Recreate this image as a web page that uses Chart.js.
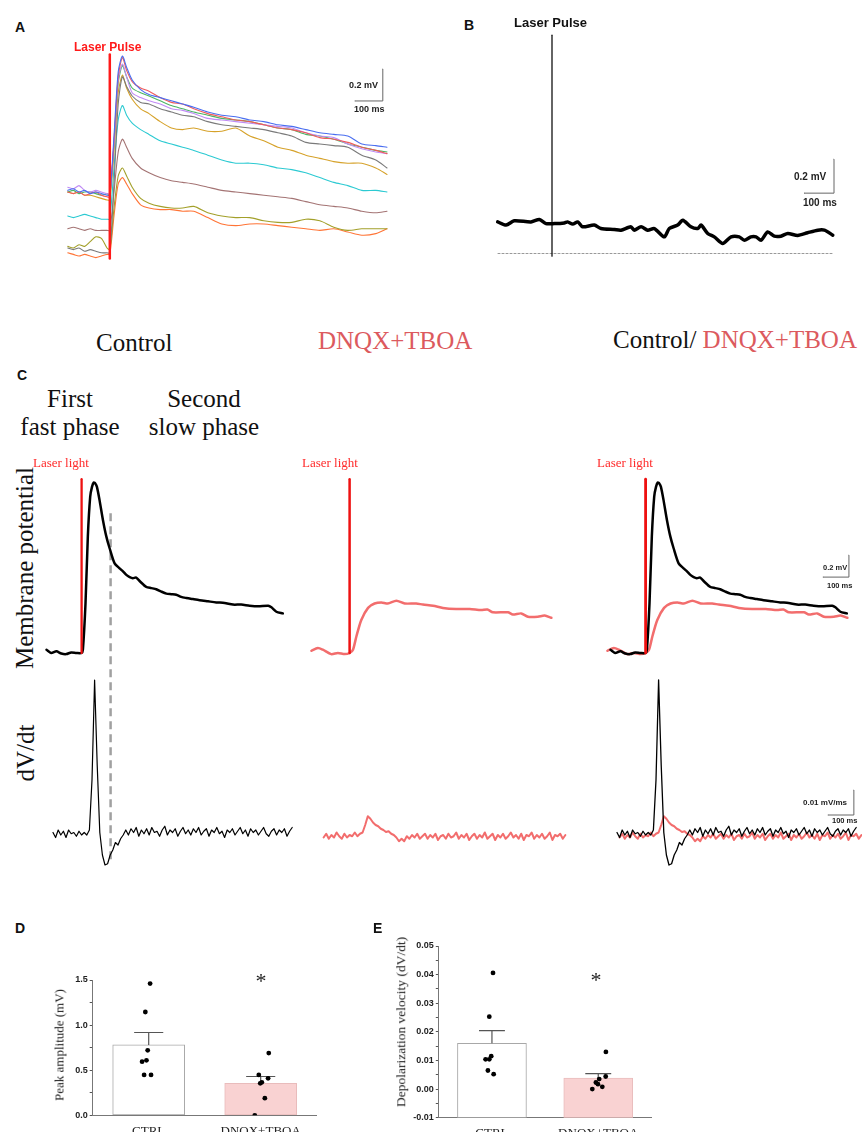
<!DOCTYPE html>
<html>
<head>
<meta charset="utf-8">
<title>Laser evoked responses</title>
<script src="https://cdn.jsdelivr.net/npm/chart.js@4.4.1/dist/chart.umd.min.js"></script>
<style>
  body { margin: 0; background: #fff; }
  #page { position: relative; width: 862px; height: 1132px; overflow: hidden; }
  #page canvas { position: absolute; }
  .t { position: absolute; white-space: nowrap; line-height: 1; }
  .sans { font-family: 'Liberation Sans', Arial, sans-serif; font-weight: bold; }
  .serif { font-family: 'Liberation Serif', 'Times New Roman', serif; }
  .lbl { font-size: 14px; color: #111; }
  .v { transform: translate(-50%, -50%) rotate(-90deg); }
  .mid { transform: translateX(-50%); text-align: center; }
  .pink { color: #dc5a5e; }
  .laser { font-size: 13px; color: #ff2a2a; }
</style>
</head>
<body>
<div id="page">
  <canvas id="chartA" width="336" height="216" style="left:65.2px;top:48px"></canvas>
  <canvas id="chartB" width="348" height="238" style="left:492px;top:24px"></canvas>
  <canvas id="chartC1" width="260" height="407" style="left:40.4px;top:466px"></canvas>
  <canvas id="chartC2" width="260" height="407" style="left:308.4px;top:466px"></canvas>
  <canvas id="chartC3" width="258" height="407" style="left:604.1px;top:466px"></canvas>
  <canvas id="chartD" width="330" height="200" style="left:0px;top:960px"></canvas>
  <canvas id="chartE" width="300" height="230" style="left:360px;top:930px"></canvas>

  <div class="t sans lbl" style="left:15px;top:20px">A</div>
  <div class="t sans" style="left:74px;top:41px;font-size:12px;color:#ff1a1a">Laser Pulse</div>
  <div class="t sans" style="left:349px;top:81px;font-size:9px;color:#222">0.2 mV</div>
  <div class="t sans" style="left:354px;top:105px;font-size:9px;color:#222">100 ms</div>

  <div class="t sans lbl" style="left:464px;top:18px">B</div>
  <div class="t sans" style="left:514px;top:16px;font-size:13px;color:#111">Laser Pulse</div>
  <div class="t sans" style="left:794px;top:172px;font-size:10px;color:#222">0.2 mV</div>
  <div class="t sans" style="left:803px;top:198px;font-size:10px;color:#222">100 ms</div>

  <div class="t serif" style="left:96px;top:330px;font-size:25px;color:#111">Control</div>
  <div class="t serif pink" style="left:318px;top:328px;font-size:25px">DNQX+TBOA</div>
  <div class="t serif" style="left:613px;top:327px;font-size:25px;color:#111">Control/ <span class="pink">DNQX+TBOA</span></div>
  <div class="t sans lbl" style="left:17px;top:368px">C</div>
  <div class="t serif mid" style="left:70px;top:385px;font-size:25px;line-height:28px;color:#111">First<br>fast phase</div>
  <div class="t serif mid" style="left:204px;top:385px;font-size:25px;line-height:28px;color:#111">Second<br>slow phase</div>
  <div class="t serif v" style="left:24px;top:568px;font-size:25px;color:#111">Membrane potential</div>
  <div class="t serif v" style="left:25px;top:753px;font-size:25px;color:#111">dV/dt</div>
  <div class="t serif laser" style="left:33px;top:456px">Laser light</div>
  <div class="t serif laser" style="left:302px;top:456px">Laser light</div>
  <div class="t serif laser" style="left:597px;top:456px">Laser light</div>
  <div class="t sans" style="left:823px;top:564px;font-size:7.5px;color:#222">0.2 mV</div>
  <div class="t sans" style="left:827px;top:582px;font-size:7.5px;color:#222">100 ms</div>
  <div class="t sans" style="left:803px;top:799px;font-size:8px;color:#222">0.01 mV/ms</div>
  <div class="t sans" style="left:832px;top:817px;font-size:7.5px;color:#222">100 ms</div>

  <div class="t sans lbl" style="left:15px;top:921px">D</div>
  <div class="t serif v" style="left:59px;top:1045px;font-size:13px;color:#222">Peak amplitude (mV)</div>
  <div class="t serif mid" style="left:261px;top:970px;font-size:22px;color:#222">*</div>
  <div class="t sans lbl" style="left:373px;top:921px">E</div>
  <div class="t serif v" style="left:401px;top:1022px;font-size:13.5px;color:#222">Depolarization velocity (dV/dt)</div>
  <div class="t serif mid" style="left:596px;top:969px;font-size:22px;color:#222">*</div>
</div>

<script>
// ---- A: responses to increasing laser intensity (time in ms from the pulse, mV)
var tA = [-150,-130,-110,-90,-70,-50,-30,-10,0,15,30,45,60,80,110,140,180,220,260,300,350,400,450,500,550,600,650,700,750,800,850,900,950,990];
var aBlue   = [0.41,0.42,0.40,0.41,0.39,0.40,0.39,0.38,0.38,0.75,1.15,1.25,1.18,1.10,1.04,1.01,0.99,0.97,0.95,0.93,0.90,0.88,0.87,0.85,0.84,0.82,0.81,0.79,0.77,0.76,0.75,0.70,0.69,0.68];
var aRed    = [0.40,0.39,0.40,0.38,0.39,0.40,0.38,0.37,0.37,0.72,1.12,1.24,1.16,1.09,1.05,1.03,0.99,0.96,0.95,0.92,0.89,0.87,0.85,0.84,0.82,0.80,0.79,0.77,0.74,0.73,0.71,0.68,0.66,0.64];
var aPurple = [0.43,0.42,0.44,0.41,0.40,0.41,0.40,0.39,0.39,0.70,1.10,1.20,1.12,1.02,0.99,0.97,0.95,0.92,0.91,0.89,0.86,0.85,0.84,0.83,0.82,0.81,0.80,0.77,0.75,0.74,0.70,0.67,0.65,0.64];
var aGreen  = [0.40,0.41,0.39,0.40,0.40,0.39,0.38,0.39,0.38,0.70,1.08,1.19,1.12,1.05,1.02,1.00,0.97,0.94,0.92,0.90,0.88,0.86,0.85,0.84,0.82,0.80,0.79,0.76,0.75,0.73,0.70,0.68,0.66,0.65];
var aGray   = [0.05,0.04,0.05,0.03,0.04,0.03,0.02,0.02,0.02,0.45,0.95,1.12,1.06,1.00,0.96,0.95,0.92,0.90,0.88,0.87,0.84,0.82,0.81,0.80,0.79,0.77,0.75,0.71,0.70,0.69,0.68,0.63,0.60,0.55];
var aGold   = [0.40,0.39,0.40,0.38,0.38,0.37,0.36,0.35,0.35,0.65,1.02,1.13,1.05,0.98,0.92,0.89,0.84,0.80,0.79,0.80,0.78,0.78,0.80,0.75,0.72,0.68,0.66,0.63,0.61,0.59,0.58,0.58,0.55,0.51];
var aCyan   = [0.25,0.24,0.25,0.26,0.25,0.24,0.23,0.23,0.23,0.55,0.85,0.94,0.88,0.83,0.79,0.76,0.72,0.70,0.68,0.66,0.63,0.60,0.58,0.58,0.57,0.55,0.54,0.52,0.49,0.46,0.44,0.41,0.41,0.40];
var aBrown  = [0.17,0.18,0.17,0.16,0.17,0.16,0.16,0.16,0.16,0.40,0.65,0.73,0.68,0.61,0.55,0.52,0.49,0.47,0.46,0.45,0.43,0.41,0.40,0.39,0.38,0.37,0.36,0.34,0.32,0.31,0.30,0.28,0.27,0.28];
var aOlive  = [0.06,0.05,0.07,0.06,0.09,0.12,0.11,0.05,0.04,0.30,0.50,0.55,0.50,0.43,0.36,0.33,0.31,0.30,0.30,0.31,0.27,0.25,0.24,0.24,0.22,0.21,0.21,0.23,0.22,0.18,0.16,0.17,0.17,0.17];
var aOrange = [0.02,0.01,0.00,0.01,0.00,-0.01,0.00,0.01,0.01,0.25,0.45,0.49,0.45,0.39,0.32,0.30,0.29,0.29,0.28,0.28,0.24,0.20,0.19,0.20,0.20,0.19,0.18,0.17,0.16,0.17,0.15,0.13,0.14,0.17];

// ---- B: no response (ms, mV)
var tB = [-181,-153,-126,-70,-42,-20,8,41,52,69,86,102,141,163,208,230,263,274,297,319,341,374,391,419,436,463,486,497,519,541,569,597,624,641,663,680,697,719,741,763,786,819,852,886,908,936];
var vB = [0.186,0.167,0.192,0.186,0.200,0.176,0.176,0.180,0.186,0.173,0.186,0.157,0.167,0.147,0.141,0.137,0.157,0.137,0.157,0.137,0.147,0.098,0.147,0.167,0.196,0.157,0.147,0.167,0.118,0.098,0.059,0.098,0.098,0.078,0.098,0.098,0.078,0.127,0.102,0.102,0.118,0.106,0.122,0.137,0.137,0.108];

// ---- C: membrane potential (ms, mV)
var tCtrl = [-135,-117,-97,-78,-59,-40,-20,0,5,15,24,33,40,47,53,59,69,82,95,108,127,146,160,172,185,197,210,225,249,268,287,305,326,345,364,383,403,428,454,486,518,550,582,614,646,680,718,730,749,774];
var vCtrl = [0.03,0.00,0.015,-0.005,-0.01,0.005,0.00,0.00,0.03,0.45,1.06,1.42,1.51,1.55,1.54,1.51,1.39,1.21,1.06,0.95,0.815,0.77,0.74,0.71,0.69,0.68,0.685,0.65,0.60,0.59,0.58,0.56,0.54,0.535,0.53,0.51,0.50,0.49,0.48,0.47,0.46,0.455,0.44,0.44,0.43,0.425,0.43,0.415,0.375,0.36];
var tDnqx = [-147,-122,-103,-71,-45,-19,0,13,26,45,71,96,122,147,180,212,256,282,321,359,410,462,506,530,551,609,628,660,686,724,750,776];
var vDnqx = [0.02,0.045,0.03,-0.01,0.00,-0.01,0.00,0.03,0.15,0.30,0.41,0.45,0.46,0.45,0.475,0.45,0.45,0.44,0.43,0.41,0.40,0.40,0.39,0.395,0.37,0.37,0.35,0.36,0.33,0.33,0.34,0.32];

// dV/dt, sampled every 10 ms (mV/ms)
var dvStep = 10;
var dvCtrlStart = -110;
var dvCtrl = [0.001,-0.001,0.002,0.000,0.0015,-0.001,0.002,0.0005,0.001,-0.0005,0.0015,0.000,
  0.001,0.000,0.002,0.022,0.062,0.028,0.001,-0.008,-0.012,-0.0115,-0.008,-0.006,-0.003,-0.004,-0.0015,0.000,
  0.002,0.000,0.0025,0.001,0.003,-0.0005,0.002,0.0005,0.0025,0.000,
  0.003,0.001,0.0015,-0.0005,0.002,0.0035,0.000,0.002,0.001,0.0025,
  -0.0005,0.0015,0.003,0.0005,0.002,0.000,0.0025,0.001,0.003,0.000,
  0.0015,0.0025,-0.0005,0.002,0.001,0.003,0.0005,0.0015,-0.001,0.002,
  0.001,0.0025,0.000,0.0015,0.003,0.0005,0.002,-0.0005,0.0025,0.001,
  0.002,0.000,0.0015,0.003,0.0005,-0.0005,0.0015,0.0025,0.000,0.002,
  0.001,0.0025,-0.0005,0.0015,0.003];
var dvDnqxStart = -100;
var dvDnqx = [-0.001,0.0005,-0.0015,0.000,-0.001,0.001,-0.0005,-0.0015,0.0005,-0.001,0.000,
  -0.0005,0.001,-0.0005,0.0005,0.001,0.004,
  0.0075,0.0065,0.005,0.004,0.0035,0.0025,0.002,0.0012,0.0015,0.0005,0.000,-0.001,-0.0025,-0.0015,-0.0025,-0.0005,
  -0.0015,0.000,-0.001,0.0005,-0.0015,-0.0005,0.0005,-0.0015,0.000,-0.001,
  0.0005,-0.002,-0.0005,0.000,-0.0015,0.0005,-0.001,-0.0005,0.001,-0.0015,
  0.000,-0.001,0.0005,-0.002,-0.0005,0.0005,-0.0015,0.000,-0.001,0.001,
  -0.0015,-0.0005,0.0005,-0.002,0.000,-0.001,0.0005,-0.0015,-0.0005,0.001,
  -0.001,0.000,-0.0015,0.0005,-0.002,0.000,-0.0005,0.001,-0.0015,0.000,
  -0.001,0.0005,-0.0015,-0.0005,0.001,-0.002,0.000,-0.0005,0.0005,-0.0015,
  0.000];

// ---- D and E: group summaries
var groups = ['CTRL', 'DNQX+TBOA'];
var ampMean = [0.78, 0.355];
var ampSem = [0.138, 0.075];
var ampCtrl = [1.46, 1.145, 0.72, 0.595, 0.61, 0.448, 0.448];
var ampCtrlX = [0.0125, -0.03, -0.009, -0.059, -0.02, -0.041, 0.021];
var ampDnqx = [0.69, 0.448, 0.41, 0.366, 0.355, 0.19, 0.0];
var ampDnqxX = [1.072, 0.983, 1.066, 1.01, 0.996, 1.037, 0.947];
var velMean = [0.016, 0.00385];
var velSem = [0.0044, 0.00155];
var velCtrl = [0.0406, 0.0253, 0.0115, 0.0104, 0.0104, 0.0065, 0.0052];
var velCtrlX = [0.01, -0.025, -0.007, -0.025, -0.06, -0.038, 0.016];
var velDnqx = [0.013, 0.0044, 0.0035, 0.0023, 0.0017, 0.0008, 0.0];
var velDnqxX = [1.072, 1.07, 1.009, 0.978, 0.997, 1.038, 0.944];
var velFloor = -0.01;

Chart.defaults.font.family = "'Liberation Sans', Arial, sans-serif";

function xy(ts, vs) {
  return ts.map(function (t, i) { return {x: t, y: vs[i]}; });
}
function sampled(t0, dt, vs) {
  return vs.map(function (v, i) { return {x: t0 + i * dt, y: v}; });
}
function line(data, color, width, more) {
  var ds = {data: data, borderColor: color, borderWidth: width, pointRadius: 0, tension: 0.25,
    borderJoinStyle: 'round', borderCapStyle: 'round', fill: false};
  for (var k in more) { ds[k] = more[k]; }
  return ds;
}
function traceChart(id, xr, yr, y2r, datasets) {
  var scales = {
    x: {type: 'linear', display: false, min: xr[0], max: xr[1]},
    y: {display: false, min: yr[0], max: yr[1]}
  };
  if (y2r) { scales.y2 = {display: false, min: y2r[0], max: y2r[1]}; }
  return new Chart(document.getElementById(id), {
    type: 'line',
    data: {datasets: datasets},
    options: {
      responsive: false, animation: false, events: [],
      layout: {padding: 0},
      plugins: {legend: {display: false}, tooltip: {enabled: false}},
      scales: scales
    }
  });
}

// A
var aColors = ['#4a6ef0', '#f05a5a', '#c08cf5', '#4cb564', '#7a7a7a', '#d6a22a', '#2ccad2', '#a47474', '#a3a02a', '#ff7436'];
var aSeries = [aBlue, aRed, aPurple, aGreen, aGray, aGold, aCyan, aBrown, aOlive, aOrange];
var aSets = [line([{x: 0, y: -0.015}, {x: 0, y: 1.26}], '#ff1a1a', 2.5, {tension: 0})];
aSeries.forEach(function (s, i) { aSets.push(line(xy(tA, s), aColors[i], 1.1)); });
aSets.push(line([{x: 875, y: 0.969}, {x: 975, y: 0.969}, {x: 975, y: 1.169}], '#666', 1, {tension: 0}));
traceChart('chartA', [-160, 1040], [-0.05, 1.30], null, aSets);

// B
traceChart('chartB', [-200, 960], [-0.05, 1.35], null, [
  line(xy(tB, vB), '#000', 3.5),
  line([{x: 0, y: -0.016}, {x: 0, y: 1.284}], '#111', 1.3, {tension: 0}),
  line([{x: -180, y: 0}, {x: 937, y: 0}], '#999', 1, {tension: 0, borderDash: [2, 2]}),
  line([{x: 840, y: 0.355}, {x: 940, y: 0.355}, {x: 940, y: 0.555}], '#666', 1, {tension: 0})
]);

// C
var mvRange = [-2.0, 1.7];
var dvRange = [-0.0152, 0.1476];
var laserC = [{x: 0, y: 0}, {x: 0, y: 1.58}];
var black = '#000', salmon = '#f26d6d', laserRed = '#ee1111';
traceChart('chartC1', [-160, 840], mvRange, dvRange, [
  line(laserC, laserRed, 2.3, {tension: 0}),
  line(xy(tCtrl, vCtrl), black, 2.5),
  line(sampled(dvCtrlStart, dvStep, dvCtrl), black, 1.2, {yAxisID: 'y2', tension: 0}),
  line([{x: 111.5, y: 1.27}, {x: 111.5, y: -1.88}], '#a0a0a0', 2.5, {tension: 0, borderDash: [8, 5], borderCapStyle: 'butt'})
]);
traceChart('chartC2', [-160, 840], mvRange, dvRange, [
  line(laserC, laserRed, 2.5, {tension: 0}),
  line(xy(tDnqx, vDnqx), salmon, 2.5),
  line(sampled(dvDnqxStart, dvStep, dvDnqx), salmon, 2, {yAxisID: 'y2', tension: 0})
]);
traceChart('chartC3', [-160, 832.3], mvRange, dvRange, [
  line(laserC, laserRed, 2.8, {tension: 0}),
  line(xy(tCtrl, vCtrl), black, 2.5),
  line(xy(tDnqx, vDnqx), salmon, 2.5),
  line(sampled(dvCtrlStart, dvStep, dvCtrl), black, 1.3, {yAxisID: 'y2', tension: 0}),
  line(sampled(dvDnqxStart, dvStep, dvDnqx), salmon, 2, {yAxisID: 'y2', tension: 0}),
  line([{x: 682, y: 0.69}, {x: 782, y: 0.69}, {x: 782, y: 0.89}], '#666', 1, {tension: 0}),
  line([{x: 701, y: 0.008}, {x: 801, y: 0.008}, {x: 801, y: 0.018}], '#666', 1, {tension: 0, yAxisID: 'y2'})
]);

// D and E
function errBar(x, mean, sem, half) {
  var top = mean + sem;
  return [{x: x, y: mean}, {x: x, y: top}, {x: x - half, y: top}, {x: x + half, y: top}];
}
function summaryChart(id, cfg) {
  var dots = xy(cfg.ctrlX, cfg.ctrl).concat(xy(cfg.dnqxX, cfg.dnqx));
  var bars = cfg.mean.map(function (m, i) { return {x: i, y: cfg.floor === 0 ? m : [cfg.floor, m]}; });
  return new Chart(document.getElementById(id), {
    type: 'bar',
    data: {datasets: [
      {type: 'scatter', data: dots, backgroundColor: '#000', borderWidth: 0, pointRadius: 2.4},
      {type: 'line', data: errBar(0, cfg.mean[0], cfg.sem[0], cfg.cap), borderColor: '#555', borderWidth: 1.2, pointRadius: 0, tension: 0},
      {type: 'line', data: errBar(1, cfg.mean[1], cfg.sem[1], cfg.cap), borderColor: '#555', borderWidth: 1.2, pointRadius: 0, tension: 0},
      {type: 'bar', data: bars, backgroundColor: ['#ffffff', '#f9d2d2'], borderColor: ['#a8a8a8', '#e9bcbc'],
        borderWidth: 1, borderSkipped: false, barThickness: cfg.barW}
    ]},
    options: {
      responsive: false, animation: false, events: [],
      layout: {padding: cfg.pad},
      plugins: {legend: {display: false}, tooltip: {enabled: false}},
      scales: {
        x: {type: 'linear', min: -0.5, max: 1.5, offset: false, z: 1,
          grid: {display: false, drawTicks: false, offset: false},
          border: {color: '#777', width: 1},
          afterBuildTicks: function (s) { s.ticks = [{value: 0}, {value: 1}]; },
          afterFit: function (s) { s.height = cfg.xH; },
          ticks: {autoSkip: false, maxRotation: 0, padding: 8, color: '#222',
            font: {family: "'Liberation Serif', serif", size: 13},
            callback: function (v, i) { return groups[i]; }}
        },
        y: {min: cfg.yr[0], max: cfg.yr[1], z: 1,
          grid: {drawOnChartArea: false, tickLength: 3, color: '#555'},
          border: {color: '#777', width: 1},
          afterFit: function (s) { s.width = 40; },
          ticks: {stepSize: cfg.step, autoSkip: false, padding: 2, color: '#222',
            font: {family: "'Liberation Sans', Arial, sans-serif", size: 9, weight: 'bold'},
            callback: cfg.fmt}
        }
      }
    }
  });
}
summaryChart('chartD', {
  ctrl: ampCtrl, ctrlX: ampCtrlX, dnqx: ampDnqx, dnqxX: ampDnqxX, mean: ampMean, sem: ampSem, floor: 0,
  cap: 0.13, barW: 72, yr: [0, 1.5], step: 0.25, xH: 44.7,
  pad: {left: 52.7, right: 13.3, top: 20, bottom: 0},
  fmt: function (v) { return Math.round(v * 100) % 50 === 0 ? v.toFixed(1) : ''; }
});
summaryChart('chartE', {
  ctrl: velCtrl, ctrlX: velCtrlX, dnqx: velDnqx, dnqxX: velDnqxX, mean: velMean, sem: velSem, floor: velFloor,
  cap: 0.122, barW: 69, yr: [-0.01, 0.05], step: 0.005, xH: 42.3,
  pad: {left: 38.8, right: 8.6, top: 16, bottom: 0},
  fmt: function (v) { return Math.round(v * 1000) % 10 === 0 ? v.toFixed(2) : ''; }
});
</script>
</body>
</html>
